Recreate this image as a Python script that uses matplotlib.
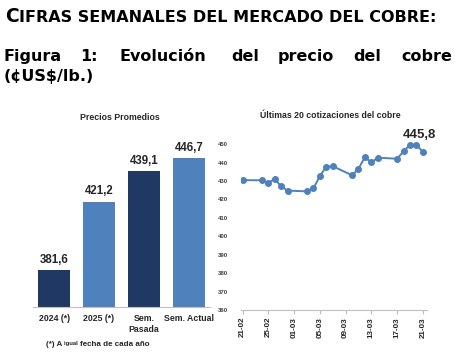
import matplotlib
matplotlib.use("Agg")
import matplotlib.pyplot as plt
from datetime import datetime

# datos del grafico de barras
categorias = ["2024 (*)", "2025 (*)", "Sem.\nPasada", "Sem. Actual"]
precios_prom = [381.6, 421.2, 439.1, 446.7]
etiquetas_prom = ["381,6", "421,2", "439,1", "446,7"]
colores_barras = ["#1F3864", "#4F81BD", "#1F3864", "#4F81BD"]

# ultimas cotizaciones
fechas = ["21-02", "24-02", "25-02", "26-02", "27-02", "28-02",
          "03-03", "04-03", "05-03", "06-03", "07-03",
          "10-03", "11-03", "12-03", "13-03", "14-03",
          "17-03", "18-03", "19-03", "20-03", "21-03"]
cotizaciones = [430.5, 430.4, 429.1, 431.1, 427.1, 424.8,
                424.4, 426.0, 432.7, 437.8, 438.1,
                433.1, 436.7, 443.0, 440.1, 442.7,
                442.1, 446.1, 449.7, 449.7, 445.8]
ticks_fechas = ["21-02", "25-02", "01-03", "05-03", "09-03", "13-03", "17-03", "21-03"]
y_ticks = [360, 370, 380, 390, 400, 410, 420, 430, 440, 450]
ultimo_txt = "445,8"

def dia(f):
    return (datetime.strptime(f + "-2025", "%d-%m-%Y") - datetime(2025, 2, 21)).days

x_dias = [dia(f) for f in fechas]
x_ticks = [dia(f) for f in ticks_fechas]

fig = plt.figure(figsize=(4.56, 3.55), dpi=100)
W, H = 456, 355

# encabezado
c = fig.text(5 / W, 1 - 22 / H, "C", fontsize=13.5, fontweight="bold", family="DejaVu Sans")
fig.canvas.draw()
bb = c.get_window_extent()
fig.text(bb.x1 / W + 0.5 / W, 1 - 22 / H, "IFRAS SEMANALES DEL MERCADO DEL COBRE:",
         fontsize=11.5, fontweight="bold", family="DejaVu Sans")

palabras = ["Figura", "1:", "Evolución", "del", "precio", "del", "cobre"]
pos_x = [4, 80, 120, 231, 278, 353, 401]
for p, px in zip(palabras, pos_x):
    fig.text(px / W, 1 - 61 / H, p, fontsize=11.5, fontweight="bold", family="DejaVu Sans")
fig.text(4 / W, 1 - 81 / H, "(¢US$/lb.)", fontsize=11.5, fontweight="bold", family="DejaVu Sans")

chart_font = "Liberation Sans"

# barras
ax1 = fig.add_axes([33 / W, 1 - 307 / H, 177 / W, 172 / H])
xb = range(len(categorias))
ax1.bar(xb, precios_prom, width=0.71, color=colores_barras, bottom=0)
ax1.set_ylim(360, 460)
ax1.set_xlim(-0.47, 3.47)
for i, (v, t) in enumerate(zip(precios_prom, etiquetas_prom)):
    ax1.text(i, v + 2.5, t, ha="center", va="bottom", fontsize=8.3,
             fontweight="bold", family=chart_font, color="#262626")
ax1.set_xticks(list(xb))
ax1.set_xticklabels(categorias, fontsize=6.3, fontweight="bold", family=chart_font,
                    color="#262626", linespacing=1.3)
ax1.tick_params(axis="x", length=0, pad=5)
ax1.set_yticks([])
for s in ["top", "right", "left"]:
    ax1.spines[s].set_visible(False)
ax1.spines["bottom"].set_color("#BFBFBF")
fig.text(120 / W, 1 - 117 / H, "Precios Promedios", ha="center", va="center",
         fontsize=6.3, fontweight="bold", family=chart_font, color="#262626")

# nota
t1 = fig.text(46 / W, 1 - 344 / H, "(*) A ", fontsize=5.8, fontweight="bold",
              family=chart_font, color="#262626", va="center")
fig.canvas.draw()
b1 = t1.get_window_extent()
t2 = fig.text(b1.x1 / W, 1 - 344 / H, "igual ", fontsize=4.3, fontweight="bold",
              family=chart_font, color="#262626", va="center")
fig.canvas.draw()
b2 = t2.get_window_extent()
fig.text(b2.x1 / W, 1 - 344 / H, "fecha de cada año", fontsize=5.8, fontweight="bold",
         family=chart_font, color="#262626", va="center")

# linea
ax2 = fig.add_axes([240.7 / W, 1 - 310 / H, 186 / W, 175 / H])
ax2.plot(x_dias, cotizaciones, color="#4F81BD", lw=1.4, marker="o", markersize=4.0)
ax2.set_xlim(-0.3, 28.6)
ax2.set_ylim(360, 455)
ax2.set_yticks(y_ticks)
ax2.set_yticklabels([str(v) for v in y_ticks], fontsize=4.3, family=chart_font,
                    fontweight="bold", color="#404040")
ax2.tick_params(axis="y", length=0, pad=9)
ax2.set_xticks(x_ticks)
ax2.set_xticklabels(ticks_fechas, rotation=90, fontsize=5.8, fontweight="bold",
                    family=chart_font, color="#262626")
ax2.tick_params(axis="x", length=3, color="#BFBFBF", pad=2)
for s in ["top", "right", "left"]:
    ax2.spines[s].set_visible(False)
ax2.spines["bottom"].set_color("#BFBFBF")
ax2.text(x_dias[-1] - 0.6, 452, ultimo_txt, ha="center", va="bottom", fontsize=9.5,
         fontweight="bold", family=chart_font, color="#262626")
fig.text(330 / W, 1 - 115 / H, "Últimas 20 cotizaciones del cobre", ha="center",
         va="center", fontsize=6.3, fontweight="bold", family=chart_font, color="#262626")

fig.savefig("out.png", dpi=100)
